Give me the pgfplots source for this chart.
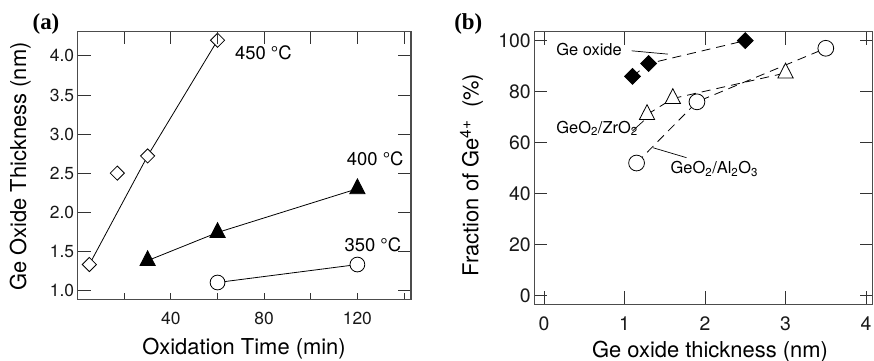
\documentclass[border=0pt]{standalone}
\usepackage{pgfplots}
\pgfplotsset{compat=1.18}
\usepackage{fontspec}
\setmainfont{TeX Gyre Heros}
\newfontfamily\panelfont{Liberation Serif}
\tikzset{open mark/.style={solid, fill=white, draw=black, line width=0.8bp}}
\begin{document}
\begin{tikzpicture}
\path[use as bounding box] (0bp,0bp) rectangle (874bp,361bp);
\pgfplotsset{
  every axis/.append style={
    scale only axis,
    axis line style={black!70, line width=1.2bp},
    tick style={black!80, line width=0.9bp},
    tick align=inside,
    /pgf/number format/assume math mode=true,
    clip=false,
  },
}
% ---------- (a) oxide growth ----------
\begin{axis}[
  at={(77.7bp,61.7bp)}, anchor=south west,
  width=333.3bp, height=267.6bp,
  xmin=0, xmax=143, ymin=0.885, ymax=4.31,
  xtick={40,80,120}, minor xtick={20,60,100,140},
  xtick pos=left,
  ytick={1,1.5,...,4}, ytick pos=both, yticklabel pos=left,
  major tick length=6bp, minor tick length=6bp,
  ytick style={/pgfplots/major tick length=13bp},
  ticklabel style={font=\fontsize{17.5}{20}\selectfont, black!90},
  xticklabel style={yshift=-9bp},
  yticklabel style={/pgf/number format/fixed, /pgf/number format/fixed zerofill, /pgf/number format/precision=1},
]
% 450 C: fitted line and data
\addplot[black, line width=0.8bp, no marks] coordinates {(5,1.33) (30,2.72) (60,4.2)};
\addplot[only marks, mark=square*, mark size=5bp, mark options={open mark, rotate=45}]
  coordinates {(5,1.33) (17,2.5) (30,2.72) (60,4.2)};
% 400 C
\addplot[black, line width=0.8bp, mark=triangle*, mark size=8.8bp, mark options={solid, yscale=1.12}]
  coordinates {(30,1.38) (60,1.74) (120,2.30)};
% 350 C
\addplot[black, line width=0.8bp, mark=*, mark size=7.4bp, mark options={open mark}]
  coordinates {(60,1.1) (120,1.33)};
\node[anchor=base west, font=\fontsize{18.5}{20}\selectfont] at (axis cs:66,3.95) {450 °C};
\node[anchor=base west, font=\fontsize{18.5}{20}\selectfont] at (axis cs:114,2.6) {400 °C};
\node[anchor=base west, font=\fontsize{18.5}{20}\selectfont] at (axis cs:113,1.5) {350 °C};
\end{axis}
% top ticks of (a)
\begin{axis}[
  at={(77.7bp,61.7bp)}, anchor=south west,
  width=333.3bp, height=267.6bp,
  xmin=0, xmax=143, ymin=0.885, ymax=4.31,
  xtick={40,80,120}, minor xtick={20,60,100,140},
  xtick pos=right, xticklabels={}, ytick=\empty,
  major tick length=12bp, minor tick length=12bp,
]
\end{axis}
% ---------- (b) Ge4+ fraction ----------
\begin{axis}[
  at={(534.3bp,56.7bp)}, anchor=south west,
  width=338.2bp, height=272.6bp,
  xmin=-0.12, xmax=4.08, ymin=-3.4, ymax=103.5,
  xtick={0,1,2,3,4}, ytick={0,20,...,100},
  xtick pos=both, ytick pos=both, xticklabel pos=left, yticklabel pos=left,
  major tick length=13bp,
  ticklabel style={font=\fontsize{19.5}{22}\selectfont, black!90},
  xticklabel style={yshift=-9bp},
]
\addplot[black, line width=0.8bp, dash pattern=on 9bp off 6bp, mark=square*, mark size=5.6bp, mark options={rotate=45, solid}]
  coordinates {(1.1,86) (1.3,91) (2.5,100)};
\addplot[black, line width=0.8bp, dash pattern=on 9bp off 6bp, mark=triangle*, mark size=8.8bp, mark options={open mark, yscale=1.12}]
  coordinates {(1.28,71) (1.6,77.3) (3.0,87.3)};
\addplot[black, line width=0.8bp, dash pattern=on 9bp off 6bp, mark=*, mark size=7.9bp, mark options={open mark}]
  coordinates {(1.15,52) (1.9,76) (3.5,97)};
% labels with leader lines
\node[anchor=base west, font=\fontsize{16.5}{18}\selectfont] at (axis cs:0.11,94.1) {Ge oxide};
\draw[black, line width=0.7bp] (axis cs:1.09,96) -- (axis cs:1.54,94.7);
\node[anchor=base west, font=\fontsize{16.5}{18}\selectfont] at (axis cs:0.11,63.7) {GeO\textsubscript{2}/ZrO\textsubscript{2}};
\draw[black, line width=0.7bp] (axis cs:1.10,64.6) -- (axis cs:1.24,68.6);
\node[anchor=base west, font=\fontsize{16.5}{18}\selectfont] at (axis cs:1.53,47.7) {GeO\textsubscript{2}/Al\textsubscript{2}O\textsubscript{3}};
\draw[black, line width=0.7bp] (axis cs:1.354,58) -- (axis cs:1.77,54.1);
\end{axis}
% axis titles and panel letters
\node[anchor=base, font=\fontsize{22}{24}\selectfont] at (244bp,7bp) {Oxidation Time (min)};
\node[anchor=base, rotate=90, font=\fontsize{22}{24}\selectfont] at (26bp,194.3bp) {Ge Oxide Thickness (nm)};
\node[anchor=base, font=\fontsize{22}{24}\selectfont] at (710bp,3.5bp) {Ge oxide thickness (nm)};
\node[anchor=base, rotate=90, font=\fontsize{22}{24}\selectfont] at (478.3bp,186bp) {Fraction of Ge\textsuperscript{4+}\ \ (\%)};
\node[font=\panelfont\bfseries\fontsize{23}{24}\selectfont] at (46bp,337bp) {(a)};
\node[font=\panelfont\bfseries\fontsize{23}{24}\selectfont] at (468.3bp,337.5bp) {(b)};
\end{tikzpicture}
\end{document}
